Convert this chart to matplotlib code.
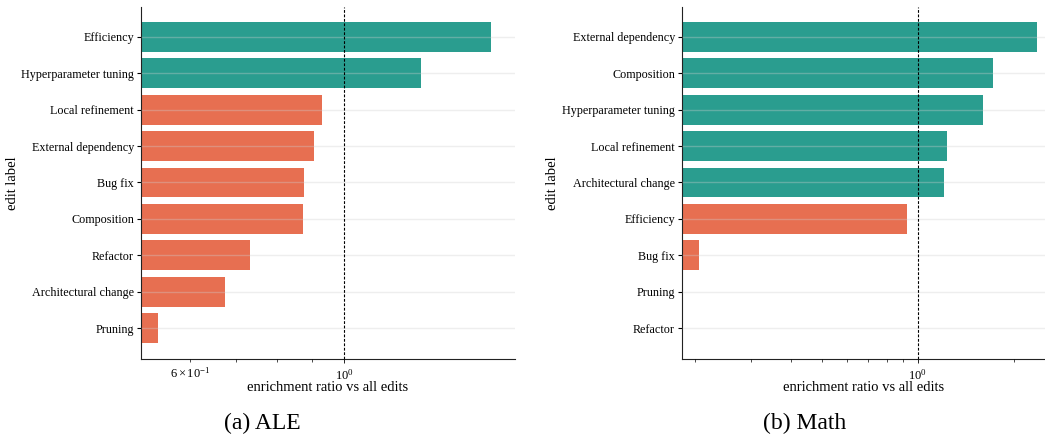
import matplotlib
matplotlib.use("Agg")
import matplotlib.pyplot as plt

plt.rcParams['font.family'] = ['Liberation Serif', 'DejaVu Serif']
plt.rcParams['mathtext.fontset'] = 'stix'

TEAL = '#2a9d8f'
ORANGE = '#e76f51'

# ALE panel, top to bottom
ale_labels = ['Efficiency', 'Hyperparameter tuning', 'Local refinement',
              'External dependency', 'Bug fix', 'Composition', 'Refactor',
              'Architectural change', 'Pruning']
ale_ratio = [1.63, 1.29, 0.931, 0.904, 0.875, 0.872, 0.731, 0.675, 0.539]

# Math panel, top to bottom
math_labels = ['External dependency', 'Composition', 'Hyperparameter tuning',
               'Local refinement', 'Architectural change', 'Efficiency',
               'Bug fix', 'Pruning', 'Refactor']
math_ratio = [2.37, 1.73, 1.60, 1.24, 1.21, 0.928, 0.207, 0.0, 0.0]


def draw_panel(ax, labels, ratio, xlim):
    pos = list(range(len(labels)))
    colors = [TEAL if r > 1 else ORANGE for r in ratio]
    ax.barh(pos, ratio, height=0.82, color=colors, zorder=1)
    ax.set_xscale('log')
    ax.set_xlim(*xlim)
    ax.set_ylim(len(labels) - 1 + 0.85, -0.82)
    ax.set_yticks(pos)
    ax.set_yticklabels(labels)
    ax.axvline(1.0, color='black', lw=0.8, ls=(0, (2.5, 1.5)), zorder=3)
    ax.grid(axis='y', color='#d0d0d0', alpha=0.35, lw=1.0, zorder=2)
    ax.grid(axis='x', visible=False, which='both')
    ax.set_axisbelow(False)
    for s in ['top', 'right']:
        ax.spines[s].set_visible(False)
    ax.spines['left'].set_color('#222222')
    ax.spines['bottom'].set_color('#222222')
    ax.tick_params(axis='y', labelsize=8.7, length=3, width=0.8, pad=2)
    ax.tick_params(axis='x', which='major', labelsize=9, length=3, width=0.6)
    ax.tick_params(axis='x', which='minor', length=2, width=0.5, labelsize=9)
    ax.set_xlabel('enrichment ratio vs all edits', fontsize=10.5)
    ax.set_ylabel('edit label', fontsize=10.5)
    ax.xaxis.set_label_coords(0.5, -0.063)
    ax.xaxis.label.set_va('top')


fig = plt.figure(figsize=(10.45, 4.37), dpi=100)
ax1 = fig.add_axes([0.1349, 0.1785, 0.3579, 0.8055])
ax2 = fig.add_axes([0.6526, 0.1785, 0.3474, 0.8055])

draw_panel(ax1, ale_labels, ale_ratio, (0.510, 1.763))
draw_panel(ax2, math_labels, math_ratio, (0.1826, 2.51))
ax1.yaxis.set_label_coords(-0.325, 0.5)
ax2.yaxis.set_label_coords(-0.34, 0.5)

fig.text(262 / 1045, 1 - 423 / 437, '(a) ALE', fontsize=17, ha='center', va='center')
fig.text(805 / 1045, 1 - 423 / 437, '(b) Math', fontsize=17, ha='center', va='center')

fig.savefig('out.png', dpi=100)
